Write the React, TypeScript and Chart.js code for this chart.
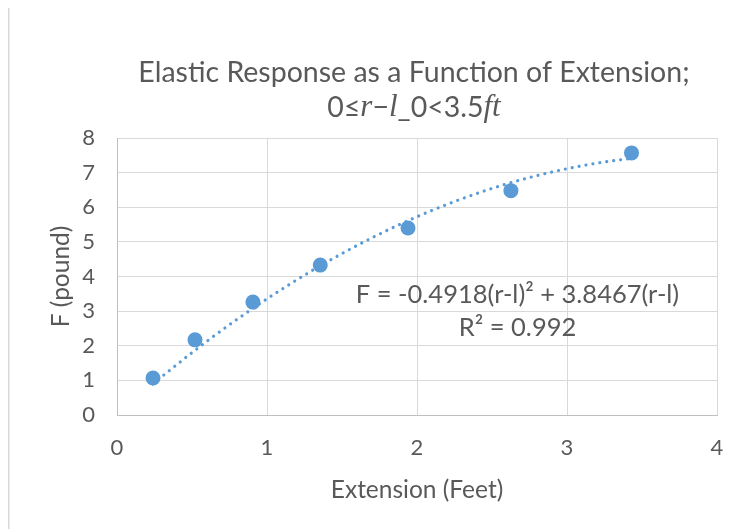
import React, { useEffect, useRef } from "react";
import { Chart, registerables } from "chart.js";

Chart.register(...registerables);

// ---- data ----
const extensionFt = [0.24, 0.52, 0.906, 1.355, 1.94, 2.626, 3.43];
const forcePound = [1.07, 2.17, 3.26, 4.33, 5.4, 6.48, 7.57];

// polynomial trendline shown on the chart: F = a(r-l)^2 + b(r-l)
const trendCoefA = -0.4918;
const trendCoefB = 3.8467;
const trendSamples = 60;

const xTickValues = [0, 1, 2, 3, 4];
const yTickValues = [0, 1, 2, 3, 4, 5, 6, 7, 8];

const titleLine1 = "Elastic Response as a Function of Extension;";
const titleLine2Parts: [string, boolean][] = [
  ["0≤", false],
  ["r", true],
  ["−", false],
  ["l", true],
  ["_0<3.5", false],
  ["ft", true],
];
const xAxisTitle = "Extension (Feet)";
const yAxisTitle = "F (pound)";
const equationText = "F = -0.4918(r-l)² + 3.8467(r-l)";
const rSquaredText = "R² = 0.992";
// anchor of the trendline label, in data units
const labelAnchorX = 2.67;
const labelAnchorY = 3.47;

const BLUE = "#5b9bd5";
const TEXT = "#595959";
const GRID = "#d9d9d9";
const FONT = "Lato, 'Open Sans', sans-serif";

const W = 742;
const H = 523;

export default function App() {
  const ref = useRef<HTMLCanvasElement | null>(null);

  useEffect(() => {
    if (!ref.current) return;
    const points = extensionFt.map((x, i) => ({ x, y: forcePound[i] }));
    const xmin = Math.min(...extensionFt);
    const xmax = Math.max(...extensionFt);
    const trend: { x: number; y: number }[] = [];
    for (let i = 0; i <= trendSamples; i++) {
      const x = xmin + ((xmax - xmin) * i) / trendSamples;
      trend.push({ x, y: trendCoefA * x * x + trendCoefB * x });
    }

    const decor = {
      id: "decor",
      beforeDraw(chart: any) {
        const { ctx } = chart;
        ctx.save();
        ctx.fillStyle = "#ffffff";
        ctx.fillRect(0, 0, chart.width, chart.height);
        ctx.strokeStyle = GRID;
        ctx.lineWidth = 1.5;
        ctx.beginPath();
        ctx.moveTo(0.75, chart.height);
        ctx.lineTo(0.75, 0.75);
        ctx.lineTo(chart.width, 0.75);
        ctx.stroke();
        ctx.restore();
      },
      afterDraw(chart: any) {
        const { ctx } = chart;
        const cx = 406;
        ctx.save();
        ctx.fillStyle = TEXT;
        ctx.textBaseline = "middle";
        ctx.textAlign = "center";
        ctx.font = `28.5px ${FONT}`;
        ctx.fillText(titleLine1, cx, 67);
        // line 2 with italic math letters
        const fontFor = (it: boolean) =>
          it ? `italic 31px 'Liberation Serif', serif` : `28.5px ${FONT}`;
        let total = 0;
        for (const [t, it] of titleLine2Parts) {
          ctx.font = fontFor(it);
          total += ctx.measureText(t).width;
        }
        let x = cx - total / 2;
        ctx.textAlign = "left";
        for (const [t, it] of titleLine2Parts) {
          ctx.font = fontFor(it);
          ctx.fillText(t, x, 102);
          x += ctx.measureText(t).width;
        }
        // trendline label
        const lx = chart.scales.x.getPixelForValue(labelAnchorX);
        const ly = chart.scales.y.getPixelForValue(labelAnchorY);
        ctx.textAlign = "center";
        ctx.font = `25.5px ${FONT}`;
        ctx.fillText(equationText, lx, ly);
        ctx.fillText(rSquaredText, lx, ly + 33);
        ctx.restore();
      },
    };

    const chart = new Chart(ref.current, {
      type: "scatter",
      data: {
        datasets: [
          {
            label: "data",
            data: points,
            backgroundColor: BLUE,
            borderColor: BLUE,
            borderWidth: 0,
            pointRadius: 7.5,
            pointHoverRadius: 7.5,
            order: 0,
          },
          {
            label: "trend",
            data: trend,
            showLine: true,
            borderColor: BLUE,
            borderWidth: 3.2,
            borderDash: [0.01, 7],
            borderCapStyle: "round",
            pointRadius: 0,
            pointHoverRadius: 0,
            fill: false,
            tension: 0,
            order: 1,
          } as any,
        ],
      },
      options: {
        responsive: false,
        animation: false,
        events: [],
        layout: { padding: { left: 0, right: 33, top: 132, bottom: 0 } },
        plugins: {
          legend: { display: false },
          title: { display: false },
          tooltip: { enabled: false },
        },
        scales: {
          x: {
            type: "linear",
            min: 0,
            max: 4,
            afterBuildTicks: (s: any) => {
              s.ticks = xTickValues.map((v) => ({ value: v }));
            },
            afterFit: (s: any) => {
              s.height = 114;
            },
            grid: { color: GRID, lineWidth: 1, drawTicks: false },
            border: { color: "#bfbfbf", width: 1 },
            ticks: {
              color: TEXT,
              font: { family: FONT, size: 22 },
              padding: 20,
            },
            title: {
              display: true,
              text: xAxisTitle,
              color: TEXT,
              font: { family: FONT, size: 24.5 },
              padding: { top: 0, bottom: 24 },
            },
          },
          y: {
            type: "linear",
            min: 0,
            max: 8,
            afterBuildTicks: (s: any) => {
              s.ticks = yTickValues.map((v) => ({ value: v }));
            },
            afterFit: (s: any) => {
              s.width = 109;
            },
            grid: { color: GRID, lineWidth: 1, drawTicks: false },
            border: { color: "#bfbfbf", width: 1 },
            ticks: {
              color: TEXT,
              font: { family: FONT, size: 22 },
              padding: 22,
            },
            title: {
              display: true,
              text: yAxisTitle,
              color: TEXT,
              font: { family: FONT, size: 24.5 },
              padding: { top: 38, bottom: 0 },
            },
          },
        },
      },
      plugins: [decor],
    });
    return () => chart.destroy();
  }, []);

  return (
    <div style={{ marginTop: -2, width: W, height: H }}>
      <canvas ref={ref} width={W} height={H} style={{ display: "block" }} />
    </div>
  );
}
